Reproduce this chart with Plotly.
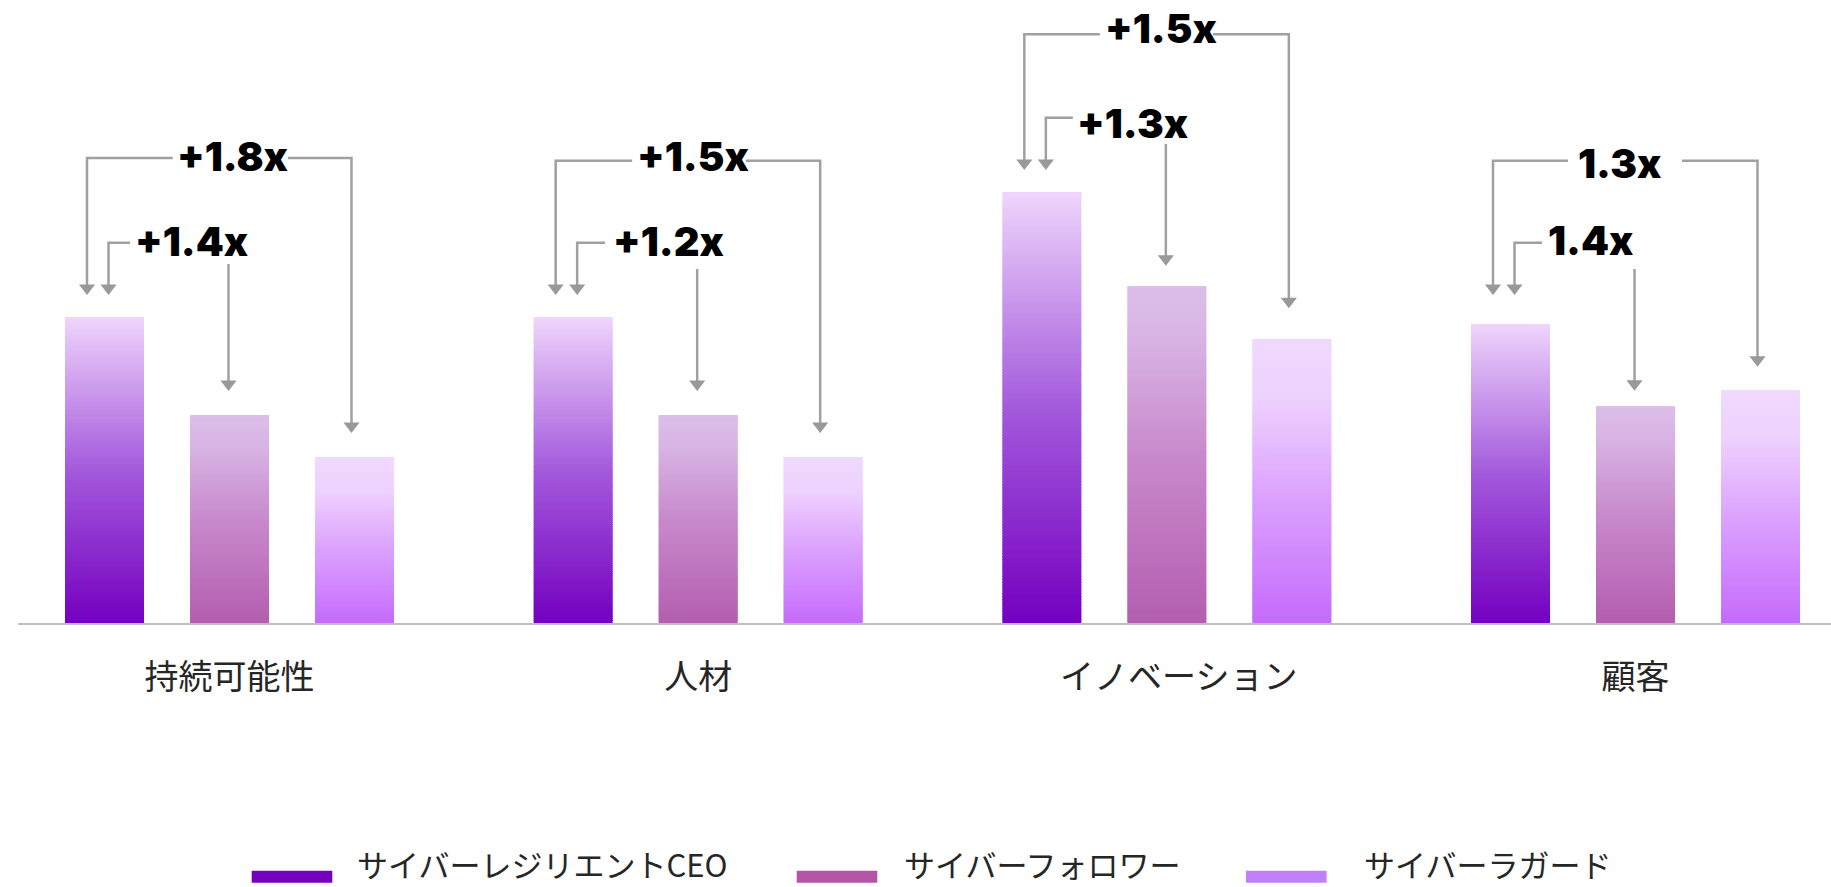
import plotly.graph_objects as go

# ---------------- data ----------------
categories = ["持続可能性", "人材", "\u2002\u2009イノベーション", "顧客"]
series_names = ["サイバーレジリエントCEO", "サイバーフォロワー", "サイバーラガード"]
ceo_values = [61.2, 61.2, 86.2, 59.8]
follower_values = [41.6, 41.6, 67.4, 43.4]
laggard_values = [33.2, 33.2, 56.8, 46.6]
outer_labels = ["+1.8x", "+1.5x", "+1.5x", "1.3x"]
inner_labels = ["+1.4x", "+1.2x", "+1.3x", "1.4x"]

# ---------------- geometry ----------------
W, H = 1831, 887
PLOT_LEFT, PLOT_BOTTOM = 18, 623
PX_PER_CAT = 468.67          # horizontal pixels per category
PX_PER_UNIT = 5.0            # vertical pixels per value unit
X_MIN = -(229.5 - PLOT_LEFT) / PX_PER_CAT
X_MAX = X_MIN + (W - PLOT_LEFT) / PX_PER_CAT
Y_MAX = PLOT_BOTTOM / PX_PER_UNIT

BAR_OFFSET = 125 / PX_PER_CAT
BAR_WIDTH = 79 / PX_PER_CAT
N_SLICES = 150               # slices used to paint the vertical gradient


def dx(px):
    return px / PX_PER_CAT


def y_at(py):
    """value-axis position of a pixel row"""
    return (PLOT_BOTTOM - py) / PX_PER_UNIT


def paper_x(px):
    return (px - PLOT_LEFT) / (W - PLOT_LEFT)


def paper_y(py):
    return (PLOT_BOTTOM - py) / PLOT_BOTTOM


# ---------------- colours ----------------
legend_colors = ["#7400C0", "#B455A8", "#C080FA"]
gradients = [
    [(0.0, "#7400C0"), (0.5, "#A45ADC"), (1.0, "#EFD5FC")],
    [(0.0, "#B45EB0"), (0.5, "#C88ACC"), (0.85, "#D8B4E4"), (1.0, "#DCBEE9")],
    [(0.0, "#C56BFC"), (0.45, "#DCA2FE"), (0.8, "#EED2FE"), (1.0, "#F0D9FE")],
]
ARROW_GREY = "#A0A0A0"
LABEL_FONT = dict(family="Inter, Roboto, sans-serif", size=40, color="#000000", weight=900)


def hex_rgb(h):
    h = h.lstrip("#")
    return tuple(int(h[i:i + 2], 16) for i in (0, 2, 4))


def color_at(stops, t):
    for (t0, c0), (t1, c1) in zip(stops[:-1], stops[1:]):
        if t <= t1:
            f = (t - t0) / (t1 - t0)
            a, b = hex_rgb(c0), hex_rgb(c1)
            return "rgb(%d,%d,%d)" % tuple(round(a[i] + (b[i] - a[i]) * f) for i in range(3))
    return "rgb(%d,%d,%d)" % hex_rgb(stops[-1][1])


def gradient_bar(values, offset, stops, name):
    xs, bases, heights, colors = [], [], [], []
    overlap = 1.0 / PX_PER_UNIT
    for i, v in enumerate(values):
        step = v / N_SLICES
        for k in range(N_SLICES):
            b = k * step
            top = min((k + 1) * step + overlap, v)
            xs.append(i + offset)
            bases.append(b)
            heights.append(top - b)
            colors.append(color_at(stops, (k + 0.5) / N_SLICES))
    return go.Bar(
        x=xs, y=heights, base=bases, width=BAR_WIDTH, name=name,
        marker=dict(color=colors, line=dict(width=0)),
        showlegend=False, hoverinfo="skip",
    )


fig = go.Figure()
all_values = [ceo_values, follower_values, laggard_values]
offsets = [-BAR_OFFSET, 0.0, BAR_OFFSET]
for vals, off, stops, name in zip(all_values, offsets, gradients, series_names):
    fig.add_trace(gradient_bar(vals, off, stops, name))

# ---------------- comparison brackets ----------------
# pixel rows of each bracket element per category, text offsets relative to group centre
brackets = [
    dict(outer=158.0, inner=242.7, tip1=295, start2=264, tip2=391, tip3=433,
         outer_end=-56.8, outer_text=-53.5, outer_resume=58.5, outer_ty=156,
         inner_end=-99.5, inner_text=-95.5, inner_ty=241),
    dict(outer=160.7, inner=242.7, tip1=295, start2=269, tip2=391, tip3=433,
         outer_end=-66, outer_text=-62.5, outer_resume=47.7, outer_ty=156.7,
         inner_end=-93, inner_text=-86, inner_ty=241.5),
    dict(outer=34.3, inner=117.7, tip1=170, start2=144, tip2=265.7, tip3=308.3,
         outer_end=-67, outer_text=-63, outer_resume=46.3, outer_ty=28.4,
         inner_end=-94, inner_text=-91, inner_ty=123),
    dict(outer=160.7, inner=242.7, tip1=295, start2=269, tip2=390.7, tip3=366.7,
         outer_end=-67.5, outer_text=-58.5, outer_resume=46.5, outer_ty=163,
         inner_end=-93.5, inner_text=-88.5, inner_ty=240),
]

HEAD_SIZE = 14
head_r = HEAD_SIZE / 2 / PX_PER_UNIT     # marker centre sits this far above the tip

lx, ly, hx, hy = [], [], [], []
annotations = []
for i, g in enumerate(brackets):
    b1 = i - BAR_OFFSET
    b2 = i
    b3 = i + BAR_OFFSET
    x_out_l = b1 + dx(-17.5)
    x_in_l = b1 + dx(4)
    x_mid = b2 + dx(-1)
    x_out_r = b3 + dx(-3)
    y_out, y_in = y_at(g["outer"]), y_at(g["inner"])
    t1 = y_at(g["tip1"]) + head_r
    t2 = y_at(g["tip2"]) + head_r
    t3 = y_at(g["tip3"]) + head_r
    # outer bracket: left arm, label gap, right arm
    lx += [x_out_l, x_out_l, i + dx(g["outer_end"]), None]
    ly += [t1, y_out, y_out, None]
    lx += [i + dx(g["outer_resume"]), x_out_r, x_out_r, None]
    ly += [y_out, y_out, t3, None]
    # inner bracket: left arm and the drop onto the middle bar
    lx += [x_in_l, x_in_l, i + dx(g["inner_end"]), None]
    ly += [t1, y_in, y_in, None]
    lx += [x_mid, x_mid, None]
    ly += [y_at(g["start2"]), t2, None]
    hx += [x_out_l, x_in_l, x_mid, x_out_r]
    hy += [t1, t1, t2, t3]

    annotations.append(dict(
        x=i + dx(g["outer_text"]), y=y_at(g["outer_ty"]), xref="x", yref="y",
        text=outer_labels[i], showarrow=False, xanchor="left", yanchor="middle",
        font=LABEL_FONT, borderpad=0,
    ))
    annotations.append(dict(
        x=i + dx(g["inner_text"]), y=y_at(g["inner_ty"]), xref="x", yref="y",
        text=inner_labels[i], showarrow=False, xanchor="left", yanchor="middle",
        font=LABEL_FONT, borderpad=0,
    ))

fig.add_trace(go.Scatter(
    x=lx, y=ly, mode="lines", line=dict(color=ARROW_GREY, width=2.5),
    showlegend=False, hoverinfo="skip",
))
fig.add_trace(go.Scatter(
    x=hx, y=hy, mode="markers",
    marker=dict(symbol="triangle-down", size=HEAD_SIZE, color="#999999", line=dict(width=0)),
    showlegend=False, hoverinfo="skip",
))

# ---------------- legend ----------------
shapes = []
legend_swatch_left = [251.7, 796.7, 1246.0]
legend_text_left = [356.0, 903.0, 1363.0]
for name, col, sx, tx in zip(series_names, legend_colors, legend_swatch_left, legend_text_left):
    shapes.append(dict(
        type="rect", xref="paper", yref="paper",
        x0=paper_x(sx), x1=paper_x(sx + 80.6), y0=paper_y(882.7), y1=paper_y(870.7),
        fillcolor=col, line=dict(width=0),
    ))
    annotations.append(dict(
        x=paper_x(tx), y=paper_y(864), xref="paper", yref="paper",
        text=name, showarrow=False, xanchor="left", yanchor="middle",
        font=dict(family="Noto Sans CJK JP", size=31, color="#262626"),
        borderpad=0,
    ))

fig.update_layout(
    width=W, height=H,
    margin=dict(l=PLOT_LEFT, r=0, t=0, b=H - PLOT_BOTTOM, pad=0),
    paper_bgcolor="#FFFFFF", plot_bgcolor="#FFFFFF",
    barmode="overlay",
    showlegend=False,
    shapes=shapes,
    annotations=annotations,
    xaxis=dict(
        range=[X_MIN, X_MAX], tickmode="array", tickvals=list(range(len(categories))),
        ticktext=categories, showgrid=False, zeroline=False,
        showline=True, linecolor="#BFBFBF", linewidth=2, ticks="",
        tickfont=dict(family="Noto Sans CJK JP", size=34, color="#262626"),
        ticklabelstandoff=23, fixedrange=True,
    ),
    yaxis=dict(range=[0, Y_MAX], visible=False, fixedrange=True),
)

fig.write_html("out.html")
